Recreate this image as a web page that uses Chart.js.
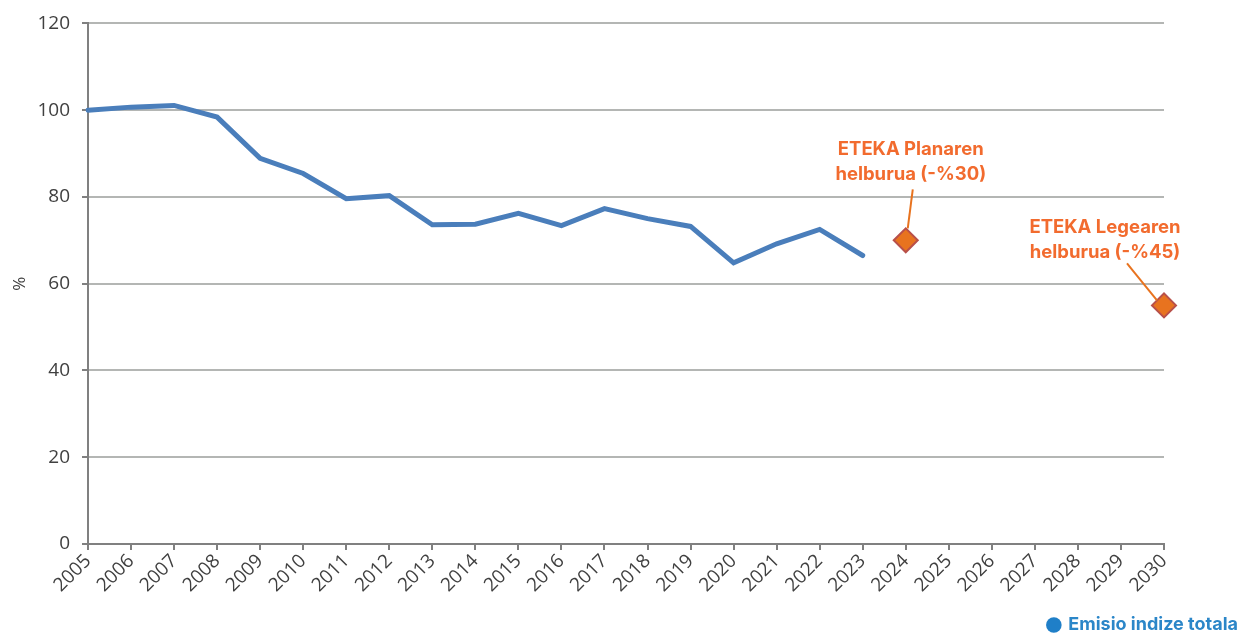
<!DOCTYPE html>
<html>
<head>
<meta charset="utf-8">
<script src="https://cdn.jsdelivr.net/npm/chart.js@4/dist/chart.umd.min.js"></script>
<style>
html,body{margin:0;padding:0;background:#fff;}
#wrap{width:1240px;height:635px;position:relative;}
</style>
</head>
<body>
<div id="wrap"><canvas id="c" width="1240" height="635"></canvas></div>
<script>
const years = ['2005','2006','2007','2008','2009','2010','2011','2012','2013','2014','2015','2016','2017','2018','2019','2020','2021','2022','2023','2024','2025','2026','2027','2028','2029','2030'];
const emissionIndex = [100, 100.7, 101.1, 98.4, 88.9, 85.4, 79.6, 80.3, 73.6, 73.7, 76.2, 73.4, 77.3, 75.0, 73.2, 64.8, 69.2, 72.5, 66.5];
const targetYears = ['2024', '2030'];
const targetValues = [70, 55];
const targetLabels = [['ETEKA Planaren', 'helburua (-%30)'], ['ETEKA Legearen', 'helburua (-%45)']];
const yTicks = [0, 20, 40, 60, 80, 100, 120];
const seriesName = 'Emisio indize totala';

const targetData = years.map(y => {
  const i = targetYears.indexOf(y);
  return i >= 0 ? targetValues[i] : null;
});

const annotPlugin = {
  id: 'annot',
  afterDatasetsDraw(chart) {
    const ctx = chart.ctx;
    const xs = chart.scales.x, ys = chart.scales.y;
    const cfg = [
      {dx: 5, dy: -91, lx1: 7, ly1: -51, lx2: 2, ly2: -12},
      {dx: -59, dy: -78, lx1: -37, ly1: -42, lx2: -7, ly2: -5}
    ];
    ctx.save();
    targetYears.forEach((yr, i) => {
      const px = xs.getPixelForValue(years.indexOf(yr));
      const py = ys.getPixelForValue(targetValues[i]);
      const c = cfg[i];
      ctx.strokeStyle = '#E8731F';
      ctx.lineWidth = 2;
      ctx.beginPath();
      ctx.moveTo(px + c.lx1, py + c.ly1);
      ctx.lineTo(px + c.lx2, py + c.ly2);
      ctx.stroke();
      ctx.fillStyle = '#F26B2E';
      ctx.font = '700 18.5px Inter';
      ctx.textAlign = 'center';
      ctx.textBaseline = 'middle';
      targetLabels[i].forEach((t, k) => {
        ctx.fillText(t, px + c.dx, py + c.dy + k * 25);
      });
    });
    ctx.restore();
  }
};

function build() {
  new Chart(document.getElementById('c'), {
    type: 'line',
    data: {
      labels: years,
      datasets: [
        {
          label: seriesName,
          data: emissionIndex,
          borderColor: '#4A7EBB',
          backgroundColor: '#1F7FC8',
          borderWidth: 5,
          pointRadius: 0,
          pointHoverRadius: 0,
          tension: 0,
          borderCapStyle: 'round',
          borderJoinStyle: 'miter',
          yAxisID: 'y'
        },
        {
          label: 'target',
          data: targetData,
          showLine: false,
          pointStyle: 'rectRot',
          pointRadius: 12,
          pointBackgroundColor: '#E8731F',
          pointBorderColor: '#B8504A',
          pointBorderWidth: 2,
          yAxisID: 'y'
        }
      ]
    },
    options: {
      responsive: false,
      animation: false,
      layout: {padding: {left: 0, right: 0, top: 23, bottom: -9}},
      plugins: {
        tooltip: {enabled: false},
        legend: {
          position: 'bottom',
          align: 'end',
          labels: {
            usePointStyle: true,
            pointStyle: 'circle',
            boxWidth: 11,
            boxHeight: 11,
            padding: 2,
            color: '#2B86C8',
            font: {family: 'Inter', size: 18, weight: '700'},
            generateLabels(chart) {
              return [{text: seriesName, fillStyle: '#1F7FC8', strokeStyle: '#1F7FC8', lineWidth: 0, pointStyle: 'circle', datasetIndex: 0, fontColor: '#2B86C8'}];
            }
          }
        }
      },
      scales: {
        x: {
          offset: false,
          afterFit(axis) { axis.height = 70; },
          grid: {display: true, drawOnChartArea: false, drawTicks: true, tickLength: 6, color: '#808080', lineWidth: 2},
          border: {display: true, color: '#808080', width: 2},
          ticks: {
            autoSkip: false,
            maxRotation: 45,
            minRotation: 45,
            color: '#404040',
            padding: 0,
            font: {family: '"Open Sans"', size: 19}
          }
        },
        y: {
          min: 0,
          max: 120,
          afterBuildTicks(axis) { axis.ticks = yTicks.map(v => ({value: v})); },
          afterFit(axis) { axis.width = 88; },
          grid: {color: '#B4B6B4', lineWidth: 2, drawTicks: true, tickLength: 6, tickColor: '#808080'},
          border: {display: true, color: '#808080', width: 2},
          ticks: {
            color: '#404040',
            padding: 12,
            font: {family: '"Open Sans"', size: 19}
          },
          title: {
            display: true,
            text: '%',
            color: '#404040',
            padding: {top: 10, bottom: 0},
            font: {family: '"Open Sans"', size: 17}
          }
        },
        yPad: {
          position: 'right',
          display: true,
          afterFit(axis) { axis.width = 76; },
          grid: {display: false, drawTicks: false},
          border: {display: false},
          ticks: {display: false}
        }
      }
    },
    plugins: [annotPlugin]
  });
}

Promise.all([
  document.fonts.load('19px "Open Sans"'),
  document.fonts.load('700 18px Inter'),
  document.fonts.load('700 18.5px Inter')
]).then(build, build);
</script>
</body>
</html>
